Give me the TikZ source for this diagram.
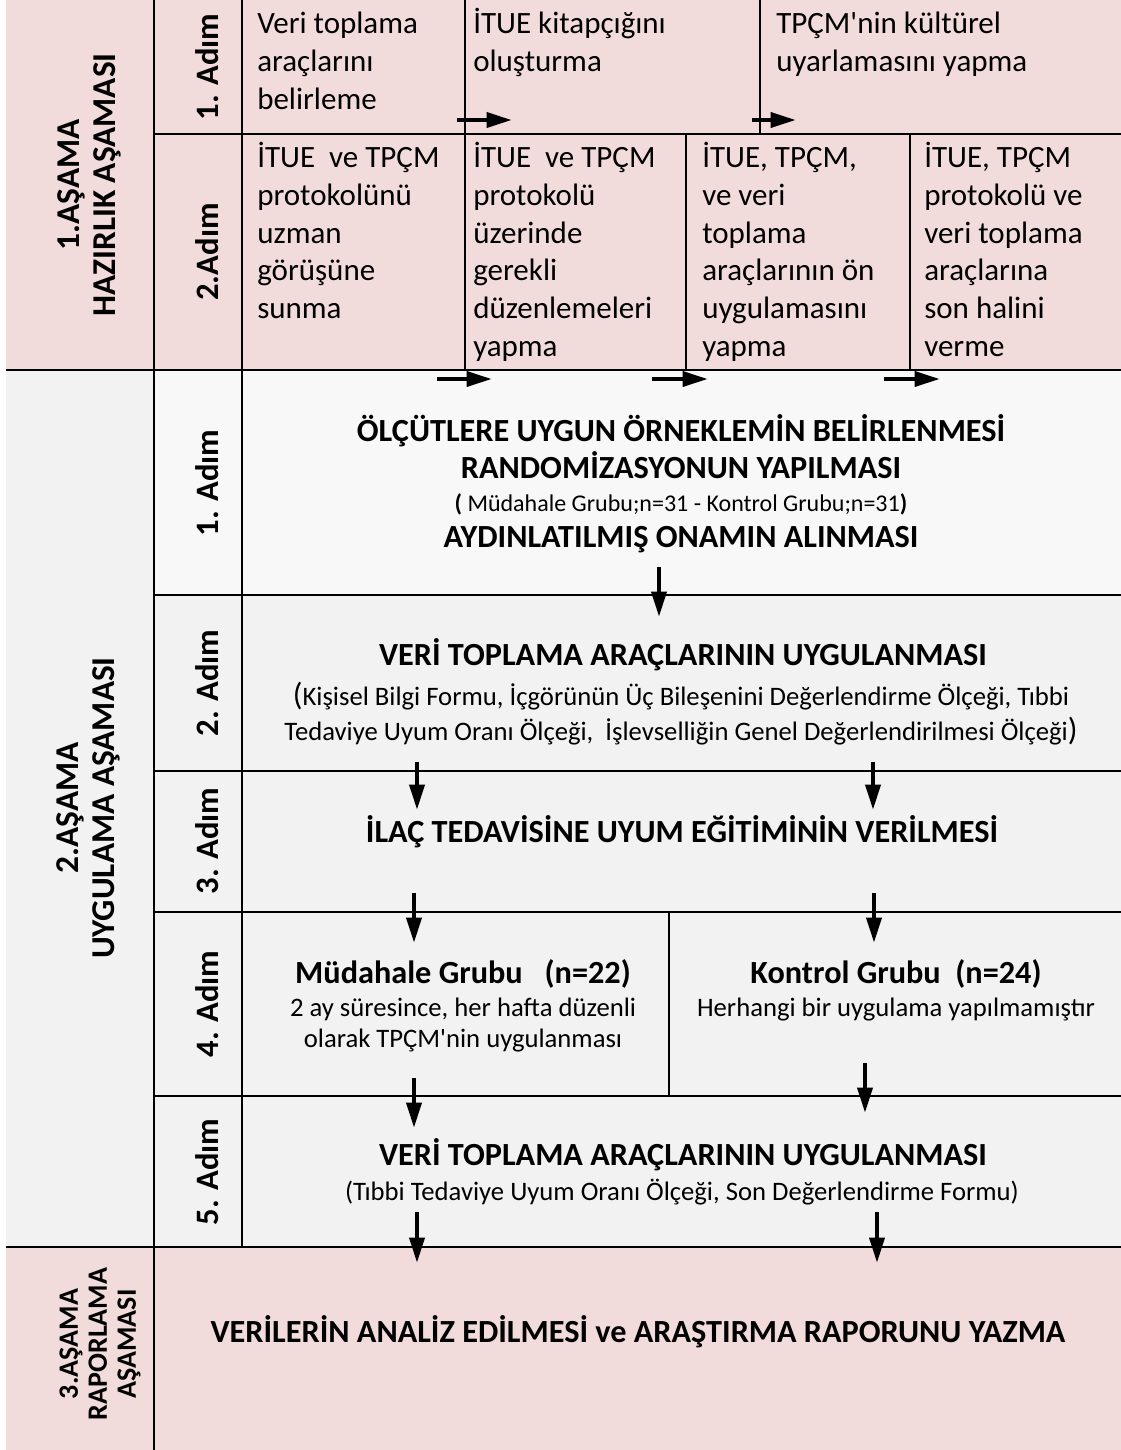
\documentclass[tikz,border=0pt]{standalone}
\usepackage{fontspec}
\setmainfont{Carlito}
\usetikzlibrary{arrows.meta}
\definecolor{pembe}{HTML}{F2DCDB}
\definecolor{gri}{HTML}{F2F2F2}
\definecolor{acikgri}{HTML}{F8F8F8}

\begin{document}
\begin{tikzpicture}[x=0.75pt,y=-0.75pt,
	cizgi/.style={line width=2.2pt},
	ok/.style={line width=3.4pt,-{Triangle[length=19pt,width=11pt]}},
	hucre/.style={anchor=north west,align=left,inner sep=0pt,font=\fontsize{23.25}{28.3}\selectfont},
	asama/.style={rotate=90,align=center,inner sep=0pt,font=\bfseries\fontsize{25}{27}\selectfont},
	adim/.style={rotate=90,inner sep=0pt,font=\bfseries\fontsize{24.5}{27}\selectfont},
	baslik/.style={anchor=base,inner sep=0pt,font=\bfseries\fontsize{24.2}{29}\selectfont},
	aciklama/.style={anchor=base,inner sep=0pt,font=\fontsize{20}{24}\selectfont}]
	\useasboundingbox (0,0) rectangle (1121,1450);
	% zeminler
	\fill[pembe] (6,0) rectangle (1121,370);
	\fill[gri] (6,370) rectangle (1121,1247);
	\fill[acikgri] (154,370) rectangle (1121,595);
	\fill[pembe] (6,1247) rectangle (1121,1450);
	% tablo cizgileri
	\draw[cizgi] (154,0) -- (154,1450);
	\draw[cizgi] (242,0) -- (242,1247);
	\draw[cizgi] (6,370) -- (1121,370);
	\draw[cizgi] (6,1247) -- (1121,1247);
	\foreach \y in {134,595,771,912,1096}
		\draw[cizgi] (154,\y) -- (1121,\y);
	\draw[cizgi] (465,0) -- (465,370);
	\draw[cizgi] (760,0) -- (760,134);
	\draw[cizgi] (686,134) -- (686,370);
	\draw[cizgi] (910,134) -- (910,370);
	\draw[cizgi] (669,912) -- (669,1096);
	% asamalar ve adimlar
	\node[asama] (asama1) at (89,185) {1.AŞAMA\\HAZIRLIK AŞAMASI};
	\node[asama] (asama2) at (88,808) {2.AŞAMA\\UYGULAMA AŞAMASI};
	\node[asama,font=\bfseries\fontsize{21}{21.75}\selectfont] (asama3) at (100,1344) {3.AŞAMA\\RAPORLAMA\\AŞAMASI};
	\foreach \n/\y/\t in {a/67/1. Adım, b/252/2.Adım, c/483/1. Adım, d/683/2. Adım,
		e/841/3. Adım, f/1004/4. Adım, g/1172/5. Adım}
		\node[adim] (adim\n) at (207,\y) {\t};
	% 1. asama
	\node[hucre] (belirleme) at (257,7) {\strut Veri toplama\\araçlarını\\belirleme};
	\node[hucre] (kitapcik) at (473,7) {\strut İTUE kitapçığını\\oluşturma};
	\node[hucre] (uyarlama) at (776,7) {\strut TPÇM\textquotesingle nin kültürel\\uyarlamasını yapma};
	\node[hucre] (uzman) at (257,141) {\strut İTUE\ \ ve TPÇM\\protokolünü\\uzman\\görüşüne\\sunma};
	\node[hucre] (duzenleme) at (473,141) {\strut İTUE\ \ ve TPÇM\\protokolü\\üzerinde\\gerekli\\düzenlemeleri\\yapma};
	\node[hucre] (onuygulama) at (702,141) {\strut İTUE, TPÇM,\\ve veri\\toplama\\araçlarının ön\\uygulamasını\\yapma};
	\node[hucre] (sonhal) at (924,141) {\strut İTUE, TPÇM\\protokolü ve\\veri toplama\\araçlarına\\son halini\\verme};
	\foreach \i/\xa/\xb/\y in {1/457/512/120, 2/752/796/120, 3/437/492/379, 4/652/708/379, 5/884/940/379}{
		\coordinate (yb\i) at (\xa,\y);
		\coordinate (ys\i) at (\xb,\y);
		\draw[ok] (yb\i) -- (ys\i);
	}
	% 2. asama
	\node[baslik] (orneklem) at (681,441) {ÖLÇÜTLERE UYGUN ÖRNEKLEMİN BELİRLENMESİ};
	\node[baslik] (random) at (681,478) {RANDOMİZASYONUN YAPILMASI};
	\node[aciklama,font=\fontsize{18}{22}\selectfont] (gruplar) at (681,511) {\textbf{(} Müdahale Grubu;n=31 - Kontrol Grubu;n=31\textbf{)}};
	\node[baslik] (onam) at (681,547) {AYDINLATILMIŞ ONAMIN ALINMASI};
	\node[baslik] (veri1) at (683,665) {VERİ TOPLAMA ARAÇLARININ UYGULANMASI};
	\node[aciklama] (olcek1) at (681,705) {{\fontsize{24}{24}\selectfont(}Kişisel Bilgi Formu, İçgörünün Üç Bileşenini Değerlendirme Ölçeği, Tıbbi};
	\node[aciklama] (olcek2) at (681,740) {Tedaviye Uyum Oranı Ölçeği,\ \ İşlevselliğin Genel Değerlendirilmesi Ölçeği{\fontsize{24}{24}\selectfont)}};
	\node[baslik] (egitim) at (682,842) {İLAÇ TEDAVİSİNE UYUM EĞİTİMİNİN VERİLMESİ};
	\node[baslik] (mudahale) at (463,983) {Müdahale Grubu\ \ \ (n=22)};
	\node[aciklama] (mudahale2) at (463,1016) {2 ay süresince, her hafta düzenli};
	\node[aciklama] (mudahale3) at (463,1047) {olarak TPÇM\textquotesingle nin uygulanması};
	\node[baslik] (kontrol) at (896,983) {Kontrol Grubu\ \ (n=24)};
	\node[aciklama] (kontrol2) at (896,1016) {Herhangi bir uygulama yapılmamıştır};
	\node[baslik] (veri2) at (683,1165) {VERİ TOPLAMA ARAÇLARININ UYGULANMASI};
	\node[aciklama] (olcek3) at (682,1200) {(Tıbbi Tedaviye Uyum Oranı Ölçeği, Son Değerlendirme Formu)};
	\foreach \i/\x/\ya/\yb in {6/659/567/617, 7/417/762/810, 8/873/762/810, 9/414/893/943,
		10/874/893/943, 11/414/1078/1128, 12/865/1063/1113, 13/417/1212/1263, 14/877/1212/1263}{
		\coordinate (yb\i) at (\x,\ya);
		\coordinate (ys\i) at (\x,\yb);
		\draw[ok] (yb\i) -- (ys\i);
	}
	% 3. asama
	\node[baslik] (rapor) at (638,1342) {VERİLERİN ANALİZ EDİLMESİ ve ARAŞTIRMA RAPORUNU YAZMA};
\end{tikzpicture}
\end{document}
